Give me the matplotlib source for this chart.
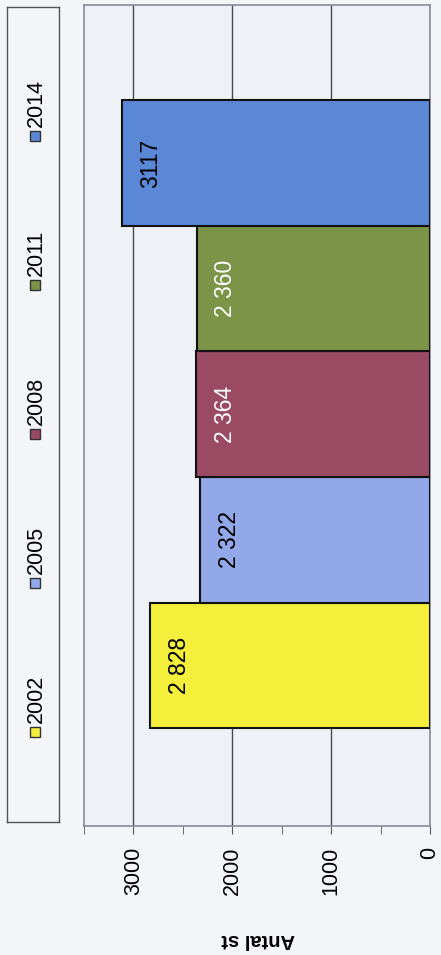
import matplotlib
matplotlib.use("Agg")
import matplotlib.pyplot as plt
from matplotlib.patches import Rectangle
from matplotlib.ticker import MultipleLocator

plt.rcParams['font.family'] = ['Liberation Sans', 'DejaVu Sans']

# data
years = ['2002', '2005', '2008', '2011', '2014']
values = [2828, 2322, 2364, 2360, 3117]
value_labels = ['2 828', '2 322', '2 364', '2 360', '3117']
ytick_values = [0, 1000, 2000, 3000]
axis_label = 'Antal st'

# styles
colors = ['#f3ef3b', '#93a8e8', '#9a4a63', '#7b9447', '#5b88d6']
label_colors = ['black', 'black', 'white', 'white', 'black']

W, H = 441, 955
fig = plt.figure(figsize=(W / 100, H / 100), dpi=100, facecolor='#f3f5f9')

# main plot (the whole chart is turned 90 degrees)
ax = fig.add_axes([84 / W, 1 - 826 / H, (430 - 84) / W, (826 - 5) / H])
ax.set_facecolor('#eef1f6')
pos = list(range(len(years)))
ax.barh(pos, values, height=1.0, color=colors, edgecolor='#111111',
        linewidth=1.5, zorder=3)
ax.set_xlim(3500, 0)
ax.set_ylim(-1.28, 5.26)

for p, v, lab, c in zip(pos, values, value_labels, label_colors):
    ax.annotate(lab, (v, p), xytext=(21, 0), textcoords='offset points',
                ha='center', va='center', rotation=90, fontsize=16.5,
                color=c, zorder=4)

ax.set_xticks(ytick_values)
ax.set_xticklabels([str(t) for t in ytick_values], rotation=90, fontsize=15.5)
ax.xaxis.set_minor_locator(MultipleLocator(500))
ax.tick_params(axis='x', which='both', direction='out', length=6,
               color='#555566', pad=9)
ax.set_yticks([])
ax.grid(axis='x', which='major', color='#4a4a4a', linewidth=1, zorder=1)
for s in ax.spines.values():
    s.set_color('#8a8a98')
    s.set_linewidth(1.2)

fig.text(258 / W, 1 - 939 / H, axis_label, rotation=180, ha='center',
         va='center', fontsize=14.5, fontweight='bold')

# legend (drawn by hand so the text can be turned)
lax = fig.add_axes([7 / W, 1 - 822 / H, 52 / W, (822 - 7) / H])
lax.set_facecolor('#f3f5f9')
lax.set_xlim(0, 52)
lax.set_ylim(0, 815)
lax.set_xticks([])
lax.set_yticks([])
for s in lax.spines.values():
    s.set_color('#555555')
    s.set_linewidth(1.0)
for i, (yr, c) in enumerate(zip(years, colors)):
    y = 90 + i * 149
    lax.add_patch(Rectangle((23, y - 5), 10, 10, facecolor=c,
                            edgecolor='#333333', linewidth=1))
    lax.text(29, y + 9, yr, rotation=90, ha='center', va='bottom',
             fontsize=15.5)

fig.savefig('out.png', dpi=100, facecolor=fig.get_facecolor())
